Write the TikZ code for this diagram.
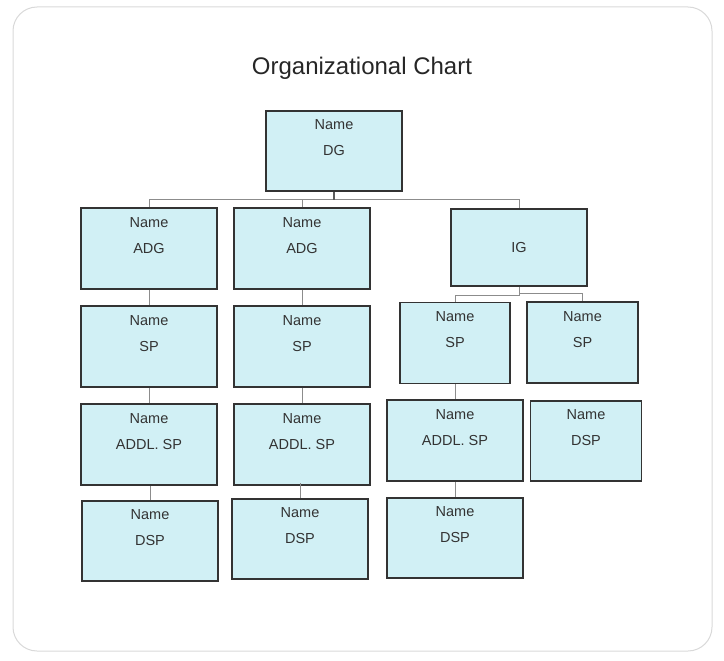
\documentclass[tikz,border=0pt]{standalone}
\usepackage{fontspec}
\setmainfont{Liberation Sans}
\usepackage{tikz}
\usetikzlibrary{positioning,calc}
\definecolor{boxfill}{HTML}{D1F0F5}
\definecolor{boxline}{HTML}{333333}
\definecolor{textgray}{HTML}{333333}
\definecolor{linkgray}{HTML}{8C8C8C}
\definecolor{framegray}{HTML}{D9D9D9}

\begin{document}
\begin{tikzpicture}[x=1pt,y=-1pt,
  chartbox/.style={rectangle,draw=boxline,fill=boxfill,line width=1.7pt,
    minimum width=136pt,minimum height=81pt,inner sep=0pt,align=center,
    text=textgray,font=\fontsize{14.5}{26}\selectfont},
  link/.style={draw=linkgray,line width=0.8pt},
  stub/.style={draw=boxline!80,line width=1.3pt}]
\useasboundingbox (0,0) rectangle (724,661);
\draw[draw=framegray,line width=1pt,rounded corners=24pt] (13,7) rectangle (712,651);
\node at (362,68) [font=\fontsize{24}{28}\selectfont,text=black!85] {Organizational Chart};

% top and second level
\node[chartbox,minimum height=80pt] (dg) at (334,151) {Name\\DG\\\mbox{}};
\node[chartbox] (adgA) at (149,248.5) {Name\\ADG\\\mbox{}};
\node[chartbox] (adgB) at (302,248.5) {Name\\ADG\\\mbox{}};
\node[chartbox,minimum height=77pt] (ig) at (519,247.5) {IG};

% left columns
\node[chartbox] (spA) at (149,346.5) {Name\\SP\\\mbox{}};
\node[chartbox] (spB) at (302,346.5) {Name\\SP\\\mbox{}};
\node[chartbox] (addlA) at (149,444.5) {Name\\ADDL. SP\\\mbox{}};
\node[chartbox] (addlB) at (302,444.5) {Name\\ADDL. SP\\\mbox{}};
\node[chartbox,minimum height=80pt] (dspA) at (150,541) {Name\\DSP\\\mbox{}};
\node[chartbox,minimum height=80pt] (dspB) at (300,539) {Name\\DSP\\\mbox{}};

% IG branch
\node[chartbox,minimum width=110pt] (spC) at (455,343) {Name\\SP\\\mbox{}};
\node[chartbox,minimum width=111pt] (spD) at (582.5,342.5) {Name\\SP\\\mbox{}};
\node[chartbox] (addlC) at (455,440.5) {Name\\ADDL. SP\\\mbox{}};
\node[chartbox,minimum width=111pt,minimum height=80pt] (dspD) at (586,441) {Name\\DSP\\\mbox{}};
\node[chartbox,minimum height=80pt] (dspC) at (455,538) {Name\\DSP\\\mbox{}};

% connectors
\coordinate (busDG) at ($(dg.south)+(0,8)$);
\coordinate (igL) at ($(ig.south)+(0,9)$);
\coordinate (igR) at ($(ig.south)+(0,6.5)$);
\draw[link] (adgA.north) |- (busDG) -| (ig.north);
\draw[link] (adgB.north) -- (adgB.north |- busDG);
\draw[stub] (dg.south) -- (busDG);
\draw[link] (ig.south) -- (igL) -| (spC.north);
\draw[link] (igR) -| (spD.north);
\draw[link] (adgA.south) -- (spA.north);
\draw[link] (spA.south) -- (addlA.north);
\draw[link] (adgB.south) -- (spB.north);
\draw[link] (spB.south) -- (addlB.north);
\draw[link] (spC.south) -- (addlC.north);
\draw[link] (addlC.south) -- (dspC.north);
\draw[link] (dspA.north) -- (dspA.north |- addlA.south);
\draw[link] (dspB.north) -- ([yshift=3pt]dspB.north |- addlB.south);
\end{tikzpicture}
\end{document}
